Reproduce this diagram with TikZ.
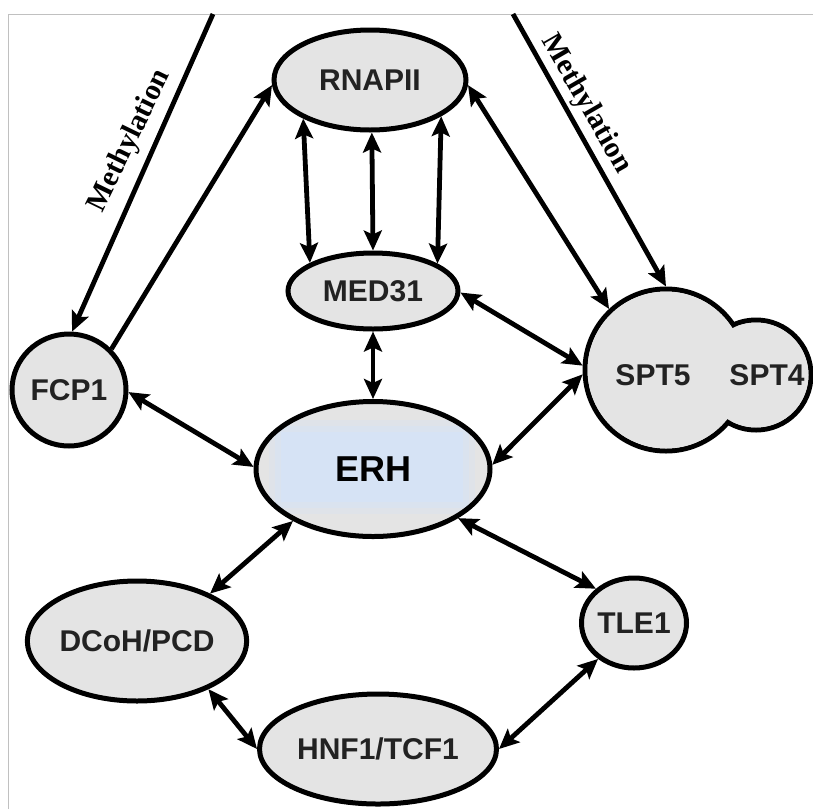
\documentclass[tikz,border=0pt]{standalone}
\usepackage{fontspec}
\setmainfont{Liberation Sans}
\newfontfamily\labelserif{Liberation Serif}
\usetikzlibrary{shapes.geometric,arrows.meta}

\definecolor{nodefill}{RGB}{228,228,228}
\definecolor{erhblue}{RGB}{214,227,245}
\definecolor{labeltext}{RGB}{34,34,34}
\definecolor{framegray}{RGB}{192,192,192}

\begin{document}
\begin{tikzpicture}[x=1pt,y=-1pt,
  protein/.style={ellipse, draw=black, line width=5pt, fill=nodefill, inner sep=0pt,
    font=\bfseries\fontsize{30}{32}\selectfont, text=labeltext},
  plabel/.style={inner sep=0pt, font=\bfseries\fontsize{30}{32}\selectfont, text=labeltext},
  link/.style={line width=4.8pt, {Stealth[length=20pt,width=18pt,inset=4pt]}-{Stealth[length=20pt,width=18pt,inset=4pt]}},
  oneway/.style={line width=4.8pt, -{Stealth[length=20pt,width=18pt,inset=4pt]}},
  methyl/.style={inner sep=0pt, font=\labelserif\bfseries\fontsize{29.5}{31}\selectfont, text=black}
]
\useasboundingbox (0,0) rectangle (813,809);

% frame
\draw[framegray, line width=1pt] (8,809) -- (8,14) -- (813,14);
\coordinate (mtopL) at (213,14);
\coordinate (mtopR) at (513,14);

% proteins
\node[protein, minimum width=192pt, minimum height=100pt] (rnap) at (370,80) {RNAPII};
\node[protein, minimum width=170pt, minimum height=76pt] (med) at (373,291) {MED31};
\node[protein, minimum width=114pt, minimum height=112pt] (fcp) at (69,390) {FCP1};
\node[protein, minimum width=234pt, minimum height=135pt, font=\bfseries\fontsize{36}{38}\selectfont, text=black,
  path picture={
    \foreach \g/\o in {12/0.3, 6/0.5, 0/1}{
      \fill[erhblue, opacity=\o]
        ([shift={(-92-\g,-37-\g)}]path picture bounding box.center) rectangle
        ([shift={(90+\g,33+\g)}]path picture bounding box.center);
    }
  }] (erh) at (373,469) {ERH};
\node[protein, minimum width=200pt, minimum height=120pt] (dcoh) at (137,641) {DCoH/PCD};
\node[protein, minimum width=105pt, minimum height=90pt] (tle) at (634,623) {TLE1};
\node[protein, minimum width=237pt, minimum height=110pt] (hnf) at (378,749) {HNF1/TCF1};

% SPT5/SPT4 complex: union of two circles
\node[protein, circle, minimum size=110pt] (spt4) at (756,375) {};
\node[protein, circle, minimum size=162pt] (spt5) at (666,370) {};
\fill[nodefill] (spt5.center) circle (78.5) (spt4.center) circle (52.5);
\node[plabel] (spt5lbl) at (653,375) {SPT5};
\node[plabel] (spt4lbl) at (767,375) {SPT4};

% methylation labels
\node[methyl, rotate=64] (methL) at (130,141) {Methylation};
\node[methyl, rotate=-60] (methR) at (586,104) {Methylation};

% connectors
\draw[oneway] (mtopL) -- (fcp.87);
\draw[oneway] (mtopR) -- (spt5.90);
\draw[oneway] (fcp.44) -- (rnap.183);
\draw[link] (rnap.210) -- (med.156);
\draw[link] (rnap.272) -- (med.90);
\draw[link] (rnap.333) -- (med.23);
\draw[link] (rnap.357) -- (spt5.133);
\draw[link] (med.-1) -- (spt5.177);
\draw[link] (med.270) -- (erh.90);
\draw[link] (fcp.358) -- (erh.179);
\draw[link] (erh.2) -- (spt5.183);
\draw[link] (erh.213) -- (dcoh.33);
\draw[link] (erh.330) -- (tle.138);
\draw[link] (dcoh.326) -- (hnf.180);
\draw[link] (hnf.0) -- (tle.225);
\end{tikzpicture}
\end{document}
